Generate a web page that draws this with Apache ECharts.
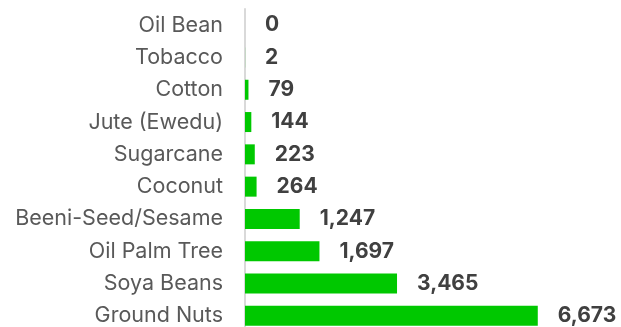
<!DOCTYPE html>
<html>
<head>
<meta charset="utf-8">
<script src="https://cdn.jsdelivr.net/npm/echarts@6/dist/echarts.min.js"></script>
<style>
  html, body { margin: 0; padding: 0; background: #ffffff; }
  #chart { width: 621px; height: 327px; }
</style>
</head>
<body>
<div id="chart"></div>
<script>
// Crops, listed top to bottom
const crops = ['Oil Bean', 'Tobacco', 'Cotton', 'Jute (Ewedu)', 'Sugarcane', 'Coconut',
  'Beeni-Seed/Sesame', 'Oil Palm Tree', 'Soya Beans', 'Ground Nuts'];
// Count per crop
const counts = [0, 2, 79, 144, 223, 264, 1247, 1697, 3465, 6673];

const chart = echarts.init(document.getElementById('chart'), null, { renderer: 'canvas' });
chart.setOption({
  animation: false,
  grid: { left: 245, width: 351, top: 9, height: 323, containLabel: false, outerBoundsMode: 'none' },
  xAxis: {
    type: 'value', min: 0, max: 8000,
    show: false
  },
  yAxis: {
    type: 'category', data: crops, inverse: true,
    axisLine: { show: true, lineStyle: { color: '#d9d9d9', width: 2 } },
    axisTick: { show: false },
    axisLabel: {
      margin: 22, fontSize: 21.5, color: '#595959',
      fontFamily: 'Inter'
    }
  },
  series: [{
    type: 'bar', data: counts, barWidth: 20,
    itemStyle: { color: '#00c800' },
    label: {
      show: true, position: 'right', distance: 20,
      fontSize: 21, fontWeight: 'bold', color: '#404040', fontFamily: 'Inter',
      formatter: p => p.value.toLocaleString('en-US')
    }
  }]
});
</script>
</body>
</html>
